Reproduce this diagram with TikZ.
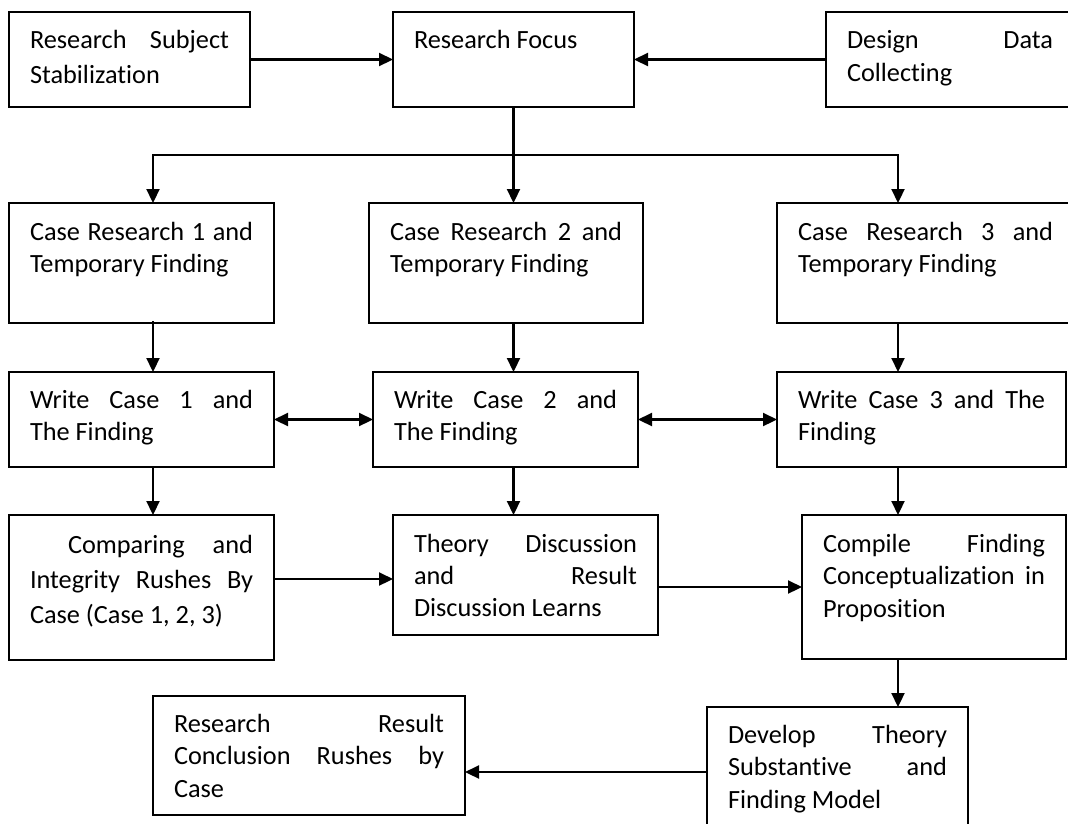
\documentclass[tikz,border=0pt]{standalone}
\usepackage{fontspec}
\setmainfont{Carlito}[Ligatures=NoCommon]
\usetikzlibrary{arrows.meta}

% #1 box width, #2 box height, #3 first baseline from top, #4 line pitch, #5 text
\newcommand\flowpar[5]{%
  \vbox to #2pt{%
    \hsize=\dimexpr #1pt-42pt\relax
    \parindent=0pt \leftskip=0pt \rightskip=0pt
    \parfillskip=0pt plus 1fil
    \tolerance=10000 \pretolerance=-1 \hbadness=10000
    \hyphenpenalty=10000 \exhyphenpenalty=10000
    \prevdepth=0pt
    \baselineskip=#4pt \lineskip=0pt \lineskiplimit=-100pt
    \vskip\dimexpr #3pt-#4pt\relax
    \noindent #5\par
    \vfill}}

\tikzset{
  flowbox/.style={draw, line width=2.2pt, rectangle, anchor=north west,
    inner xsep=21pt, inner ysep=0pt, outer sep=0pt},
  arr/.style={line width=2.2pt, -{Triangle[length=14pt,width=13pt]}},
  biarr/.style={line width=2.2pt, {Triangle[length=14pt,width=13pt]}-{Triangle[length=14pt,width=13pt]}},
}

\begin{document}
\begin{tikzpicture}[x=1pt, y=-1pt, font=\fontsize{26.3pt}{33pt}\selectfont]
\path[use as bounding box, clip] (0,0) rectangle (1068,823);
\fill[white] (0,0) rectangle (1068,823);

% top row
\node[flowbox] (subj) at (9,12)   {\flowpar{241}{95}{36}{35}{Research Subject\linebreak Stabilization}};
\node[flowbox] (foc)  at (393,12) {\flowpar{241}{95}{36}{33}{Research Focus}};
\node[flowbox] (des)  at (826,12) {\flowpar{248}{95}{36}{33}{Design Data\linebreak Collecting}};

% case research row
\node[flowbox] (c1) at (9,203)   {\flowpar{265}{120}{37}{32}{Case Research 1 and\linebreak Temporary Finding}};
\node[flowbox] (c2) at (369,203) {\flowpar{274}{120}{37}{32}{Case Research 2 and\linebreak Temporary Finding}};
\node[flowbox] (c3) at (777,203) {\flowpar{297}{120}{37}{32}{Case Research 3 and\linebreak Temporary Finding}};

% writing row
\node[flowbox] (w1) at (9,372)   {\flowpar{265}{95}{36}{32}{Write Case 1 and\linebreak The Finding}};
\node[flowbox] (w2) at (373,372) {\flowpar{265}{95}{36}{32}{Write Case 2 and\linebreak The Finding}};
\node[flowbox] (w3) at (777,372) {\flowpar{289}{95}{36}{32}{Write Case 3 and The\linebreak Finding}};

% analysis row
\node[flowbox] (cmp) at (9,515)   {\flowpar{265}{145}{38}{35}{\hspace*{38pt}Comparing and\linebreak Integrity Rushes By\linebreak Case (Case 1, 2, 3)}};
\node[flowbox] (thy) at (393,515) {\flowpar{265}{120}{37}{32}{Theory Discussion\linebreak and Result\linebreak Discussion Learns}};
\node[flowbox] (cpl) at (802,515) {\flowpar{264}{144}{37}{32.5}{Compile Finding\linebreak Conceptualization in\linebreak Proposition}};

% closing row
\node[flowbox] (res) at (153,696) {\flowpar{312}{119}{36}{32.5}{Research Result\linebreak Conclusion Rushes by\linebreak Case}};
\node[flowbox] (dev) at (707,707) {\flowpar{261}{125}{36}{32.5}{Develop Theory\linebreak Substantive and\linebreak Finding Model}};

% connector columns and rows
\coordinate (colA) at (153,0);
\coordinate (colB) at (513.5,0);
\coordinate (colC) at (898,0);
\coordinate (split) at (0,155);
\coordinate (r4) at (0,579);
\coordinate (r5) at (0,772);

% connectors
\draw[arr] (subj.east) -- (foc.west);
\draw[arr] (des.west) -- (foc.east);
\draw[arr] (foc.south) -- (c2.north -| foc.south);
\draw[arr] (split -| colB) -- (split -| colA) -- (c1.north -| colA);
\draw[arr] (split -| colB) -- (split -| colC) -- (c3.north -| colC);

\draw[arr] ([yshift=2pt]c1.south -| colA) -- (w1.north -| colA);
\draw[arr] (c2.south -| colB) -- (w2.north -| colB);
\draw[arr] (c3.south -| colC) -- (w3.north -| colC);

\draw[biarr] (w1.east) -- (w2.west);
\draw[biarr] (w2.east) -- (w3.west);

\draw[arr] (w1.south -| colA) -- (cmp.north -| colA);
\draw[arr] (w2.south -| colB) -- (thy.north -| colB);
\draw[arr] (w3.south -| colC) -- (cpl.north -| colC);

\draw[arr] (cmp.east |- r4) -- (thy.west |- r4);
\draw[arr] (thy.east |- cpl.west) -- (cpl.west);

\draw[arr] (cpl.south -| colC) -- (dev.north -| colC);
\draw[arr] (dev.west |- r5) -- (res.east |- r5);
\end{tikzpicture}
\end{document}
